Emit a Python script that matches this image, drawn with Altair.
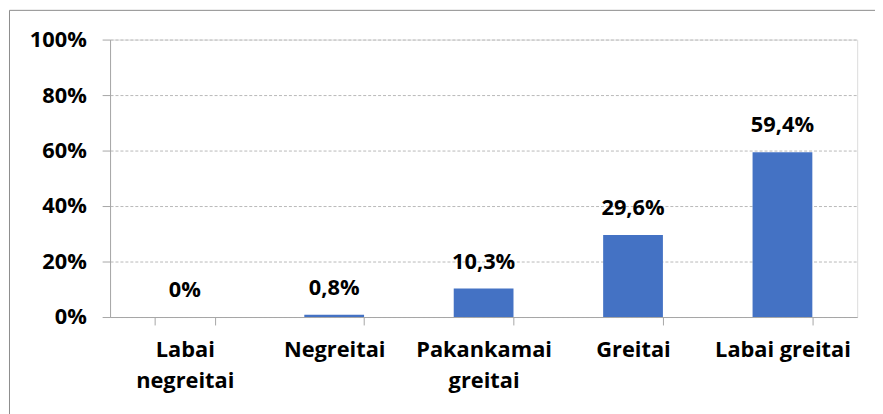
import altair as alt
import pandas as pd

categories = ["Labai negreitai", "Negreitai", "Pakankamai greitai", "Greitai", "Labai greitai"]
values = [0, 0.8, 10.3, 29.6, 59.4]
value_labels = ["0%", "0,8%", "10,3%", "29,6%", "59,4%"]
y_ticks = [0, 20, 40, 60, 80, 100]

df = pd.DataFrame({"cat": categories, "val": values, "lab": value_labels})

FONT = "Open Sans"
FS = 22

x_enc = alt.X(
    "cat:N",
    sort=categories,
    scale=alt.Scale(paddingInner=0.6, paddingOuter=0.3),
    axis=alt.Axis(
        title=None,
        labelAngle=0,
        labelFont=FONT,
        labelFontSize=FS,
        labelFontWeight="bold",
        labelColor="#000000",
        labelPadding=15,
        labelLineHeight=31,
        labelExpr="datum.label == 'Labai negreitai' ? ['Labai', 'negreitai'] : datum.label == 'Pakankamai greitai' ? ['Pakankamai', 'greitai'] : datum.label",
        tickBand="extent",
        tickSize=8,
        tickColor="#A6A6A6",
        domainColor="#A6A6A6",
        grid=False,
    ),
)

y_enc = alt.Y(
    "val:Q",
    scale=alt.Scale(domain=[0, 100], nice=False),
    axis=alt.Axis(
        title=None,
        values=y_ticks,
        labelExpr="datum.value + '%'",
        labelFont=FONT,
        labelFontSize=FS,
        labelFontWeight="bold",
        labelColor="#000000",
        labelPadding=16,
        tickSize=8,
        tickColor="#A6A6A6",
        domainColor="#A6A6A6",
        grid=True,
        gridColor="#B8B8B8",
        gridDash=[3, 2],
        gridWidth=1,
    ),
)

base = alt.Chart(df)

bars = base.mark_bar(color="#4472C4").encode(x=x_enc, y=y_enc)

texts = base.mark_text(
    font=FONT, fontSize=FS, fontWeight="bold", color="#000000",
    baseline="alphabetic", dy=-20,
).encode(x=alt.X("cat:N", sort=categories), y="val:Q", text="lab:N")

border = alt.Chart(pd.DataFrame({"b": [0]})).mark_rect(
    filled=False, stroke="#8C8C8C", strokeWidth=1
).encode(
    x=alt.value(-101.5), x2=alt.value(1000),
    y=alt.value(-29.5), y2=alt.value(600),
)

chart = alt.layer(border, bars, texts).properties(
    width=754, height=280,
    padding={"left": 103, "top": 30, "right": 18, "bottom": 96},
    autosize=alt.AutoSizeParams(type="none"),
).configure_view(stroke=None).configure(background="white")

chart.save("out.html", embed_options={"renderer": "svg", "actions": False})
